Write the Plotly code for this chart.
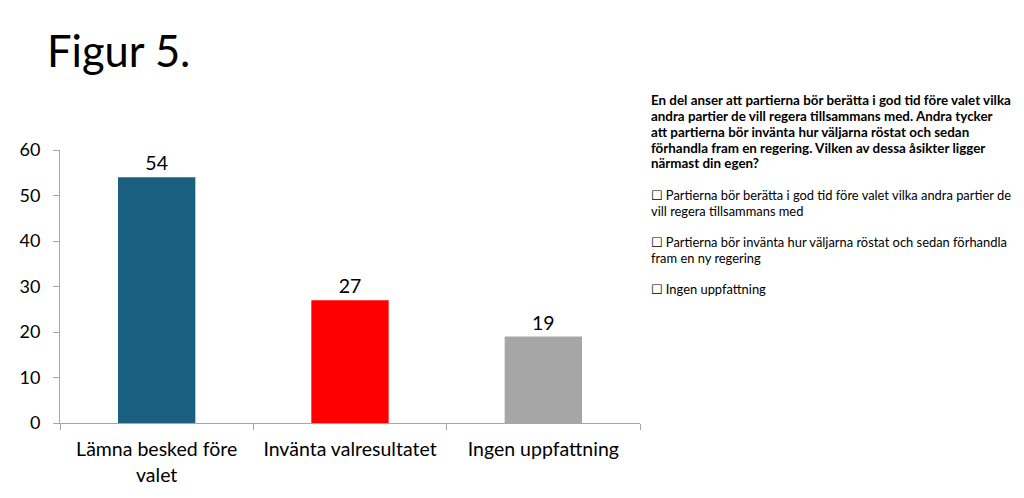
import plotly.graph_objects as go

categories = ["Lämna besked före<br>valet", "Invänta valresultatet", "Ingen uppfattning"]
values = [54, 27, 19]
colors = ["#1b5f80", "#ff0000", "#a6a6a6"]
yticks = [0, 10, 20, 30, 40, 50, 60]

title_text = "Figur 5."
question_lines = [
    "En del anser att partierna bör berätta i god tid före valet vilka",
    "andra partier de vill regera tillsammans med. Andra tycker",
    "att partierna bör invänta hur väljarna röstat och sedan",
    "förhandla fram en regering. Vilken av dessa åsikter ligger",
    "närmast din egen?",
]
option_lines = [
    ["☐ Partierna bör berätta i god tid före valet vilka andra partier de", "vill regera tillsammans med"],
    ["☐ Partierna bör invänta hur väljarna röstat och sedan förhandla", "fram en ny regering"],
    ["☐ Ingen uppfattning"],
]

# page body has an 8px margin, so lay out in shifted coordinates
OFF = 8
W, H = 1024, 498
L, T = 60 - OFF, 150 - OFF
PW, PH = 580, 273
R = W - L - PW
B = H - T - PH

def px(x):
    return (x - OFF - L) / PW

def py(y):
    return (T + PH - (y - OFF)) / PH

FONT = "Lato, 'DejaVu Sans', sans-serif"

fig = go.Figure(go.Bar(
    x=categories, y=values,
    marker=dict(color=colors, line=dict(width=0)),
    width=0.4,
    text=[str(v) for v in values], textposition="outside",
    textfont=dict(size=19.5, color="#000000", family=FONT),
    cliponaxis=False,
))

annotations = [dict(text=title_text, x=px(45), y=py(50), xref="paper", yref="paper",
                    xanchor="left", yanchor="middle", showarrow=False,
                    font=dict(size=43.5, color="#000000", family=FONT))]

qy = [100, 116, 132, 148, 163]
for line, y in zip(question_lines, qy):
    annotations.append(dict(text="<b>" + line + "</b>", x=px(649), y=py(y), xref="paper", yref="paper",
                            xanchor="left", yanchor="middle", showarrow=False,
                            font=dict(size=13.4, color="#000000", family=FONT)))
oy = [[195, 211], [242, 258], [289]]
for lines, ys in zip(option_lines, oy):
    for line, y in zip(lines, ys):
        annotations.append(dict(text=line, x=px(649), y=py(y), xref="paper", yref="paper",
                                xanchor="left", yanchor="middle", showarrow=False,
                                font=dict(size=12.9, color="#000000", family=FONT)))

fig.update_layout(
    width=W, height=H,
    margin=dict(l=L, r=R, t=T, b=B, pad=0),
    paper_bgcolor="white", plot_bgcolor="white",
    showlegend=False,
    annotations=annotations,
    xaxis=dict(showline=True, linecolor="#a6a6a6", linewidth=1,
               ticks="outside", tickson="boundaries", ticklen=6, tickcolor="#a6a6a6",
               tickfont=dict(size=19.5, color="#000000", family=FONT), showgrid=False,
               ticklabelstandoff=9),
    yaxis=dict(range=[0, 60], tickvals=yticks, showline=True, linecolor="#a6a6a6", linewidth=1,
               ticks="outside", ticklen=6, tickcolor="#a6a6a6", showgrid=False, zeroline=False,
               tickfont=dict(size=18, color="#000000", family=FONT), ticklabelstandoff=9),
)

fig.write_html("out.html")
